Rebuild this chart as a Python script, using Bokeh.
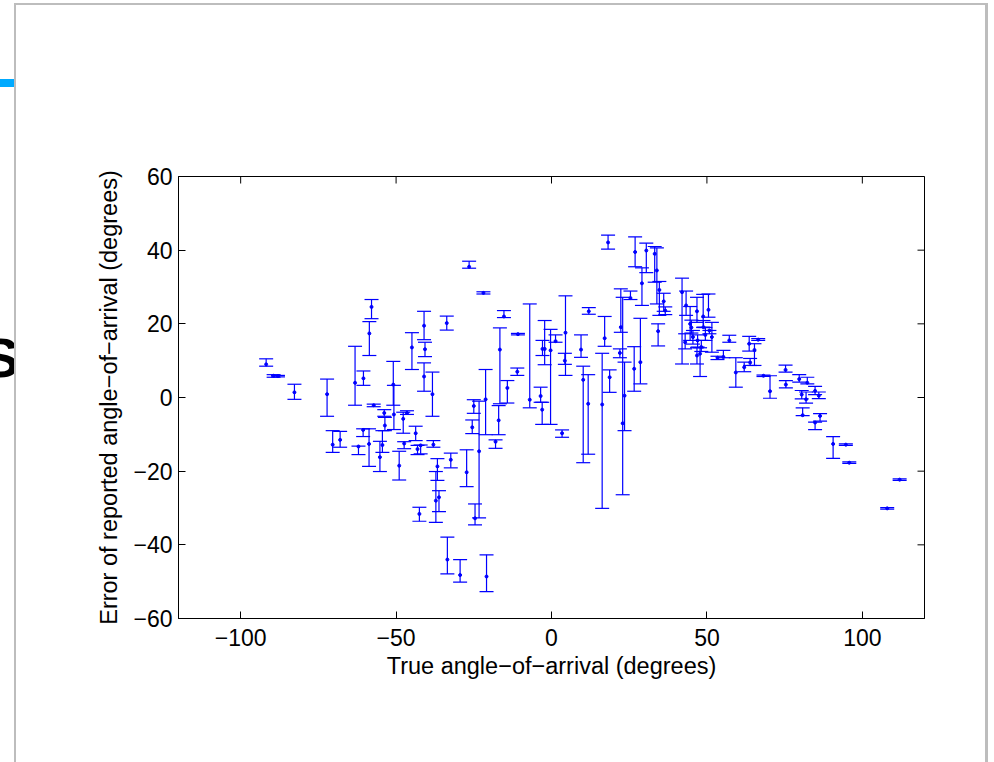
import math
from bokeh.plotting import figure
from bokeh.models import ColumnDataSource, FixedTicker, Range1d, Div
from bokeh.layouts import column
from bokeh.embed import file_html
from bokeh.resources import INLINE

# true angle, reported error, lower and upper bound of error bar
x_vals = [-91.8, -89.4, -88.0, -82.7, -72.2, -70.4, -68.0, -63.2, -62.1, -60.5,
          -60.6, -58.7, -57.9, -58.6, -57.2, -55.2, -54.4, -53.8, -53.6, -50.9,
          -50.7, -49.0, -47.7, -47.4, -46.5, -44.9, -43.7, -43.1, -42.5, -42.1,
          -41.0, -40.7, -41.0, -38.3, -38.0, -36.7, -37.2, -36.2, -33.7, -33.5,
          -32.4, -29.4, -27.3, -26.5, -25.5, -24.6, -23.3, -25.0, -21.9, -21.2,
          -20.9, -18.0, -16.6, -17.0, -15.3, -14.2, -11.0, -10.8, -7.0, -3.5,
          -3.0, -2.2, -2.9, -0.3, 1.3, 3.4, 4.5, 4.3, 9.5, 10.2,
          11.8, 12.0, 16.3, 17.1, 18.2, 18.7, 22.3, 22.9, 22.0, 23.5,
          25.4, 26.6, 26.9, 28.6, 29.1, 30.5, 33.2, 33.9, 34.7, 36.1,
          36.6, 34.3, 42.0, 43.3, 43.0, 44.6, 46.8, 48.8, 50.5, 48.9,
          51.6, 50.8, 47.8, 46.8, 45.5, 47.0, 48.2, 49.5, 45.0, 53.4,
          55.3, 57.2, 59.3, 62.0, 63.6, 63.9, 65.3, 66.5, 68.2, 70.3,
          75.3, 75.4, 79.7, 82.3, 80.5, 81.9, 84.8, 80.8, 86.4, 84.8,
          90.6, 94.7, 95.8, 108.0, 112.0, 86.0]
y_vals = [9.0, 5.9, 5.8, 1.4, 0.9, -12.8, -11.5, 4.0, -13.3, 5.2,
          -8.8, -12.6, 24.6, 17.4, -2.1, -16.2, -12.9, -4.2, -7.6, 3.5,
          -4.6, -18.5, -5.8, -12.5, -4.2, 13.6, -9.7, -14.0, -31.6, -13.0,
          19.5, 13.1, 5.7, 0.9, -12.8, -18.7, -28.0, -27.1, 20.2, -44.0,
          -16.9, -48.2, -20.3, 35.5, -8.1, -32.8, -14.6, -2.3, 28.4, -0.5,
          -48.6, -12.0, 13.0, -6.2, 22.0, 2.6, 7.0, 17.2, -0.6, 0.4,
          -3.3, 13.2, 13.2, 12.8, 15.3, -9.7, 17.6, 10.0, 13.0, 4.8,
          -1.7, 23.4, -1.9, 16.1, 42.1, 5.5, 19.1, -7.0, 12.1, 0.5,
          27.0, 7.8, 39.5, 9.6, 31.0, 39.9, 39.0, 34.5, 29.2, 26.1,
          23.6, 18.0, 28.6, 25.0, 15.0, 20.0, 23.4, 22.0, 23.8, 19.1,
          16.4, 18.2, 11.9, 11.4, 16.4, 15.5, 13.7, 17.0, 19.0, 10.8,
          11.0, 15.5, 6.8, 8.2, 14.6, 9.5, 12.9, 15.7, 5.9, 1.7,
          7.5, 3.5, 5.0, 4.0, 0.8, -0.5, 1.8, -4.8, -5.0, -6.8,
          -12.6, -12.8, -17.7, -30.1, -22.3, 0.5]
y_low = [8.5, 5.5, 5.6, -0.5, -5.1, -14.9, -13.5, -2.1, -15.5, 3.3,
         -10.6, -18.7, 21.4, 11.4, -2.5, -20.1, -14.9, -5.1, -9.0, -2.1,
         -8.7, -22.4, -9.7, -13.9, -4.6, 7.6, -11.7, -15.5, -33.6, -15.3,
         15.7, 11.1, 1.7, -5.1, -13.5, -22.5, -33.9, -31.0, 18.3, -47.9,
         -19.1, -50.1, -24.2, 35.1, -9.8, -34.6, -32.7, -4.3, 28.1, -10.1,
         -52.7, -13.8, -1.7, -10.1, 21.7, -1.5, 6.0, 17.0, -2.8, -1.3,
         -7.3, 8.9, 11.4, -7.3, 15.0, -10.8, 6.0, 9.0, 10.9, -17.7,
         -15.4, 22.6, -30.1, 13.9, 40.3, 1.4, 17.7, -26.4, 10.8, -9.0,
         26.6, 1.7, 35.5, 3.7, 25.0, 33.9, 31.3, 25.4, 22.3, 23.4,
         22.5, 14.0, 9.1, 22.3, 13.2, 15.5, 20.4, 19.0, 21.8, 19.1,
         12.3, 17.3, 5.7, 9.1, 14.5, 13.7, 12.5, 15.5, 17.5, 10.3,
         10.8, 15.0, 2.8, 7.0, 12.6, 8.7, 8.7, 15.5, 5.7, -0.2,
         6.9, 2.6, 4.2, 3.7, -0.4, -1.5, 0.8, -4.9, -6.4, -8.7,
         -16.5, -13.0, -17.9, -30.3, -22.5, -0.3]
y_high = [10.5, 6.2, 6.0, 3.6, 5.0, -9.0, -9.2, 13.9, -13.2, 7.2,
          -8.5, -8.5, 26.6, 20.6, -1.8, -11.9, -9.0, -3.3, -5.4, 9.8,
          3.3, -14.6, -4.0, -12.0, -3.6, 17.6, -7.8, -13.0, -29.8, -12.9,
          23.4, 15.0, 9.4, 6.9, -11.7, -16.6, -20.1, -25.3, 22.1, -37.9,
          -15.1, -44.0, -14.2, 37.0, -6.1, -28.9, -1.0, -0.6, 28.7, 7.6,
          -42.7, -11.5, 18.9, -2.2, 23.6, 4.6, 8.0, 17.4, 25.4, 2.8,
          -1.3, 20.9, 15.5, 18.5, 17.0, -8.8, 27.6, 12.0, 17.0, 8.5,
          6.2, 24.4, 12.0, 22.0, 44.1, 7.5, 29.5, 27.2, 13.2, 9.6,
          28.9, 13.8, 43.6, 21.5, 35.2, 41.9, 41.0, 40.6, 31.5, 28.3,
          24.6, 20.0, 32.4, 28.9, 17.3, 24.7, 27.2, 28.0, 28.1, 20.9,
          20.4, 18.2, 13.5, 13.5, 18.2, 17.0, 15.5, 19.0, 21.0, 11.2,
          12.8, 16.9, 10.8, 9.6, 16.6, 10.6, 14.6, 16.0, 6.1, 5.9,
          8.8, 4.6, 6.2, 5.5, 1.9, 1.5, 3.0, -2.8, -4.4, -6.7,
          -10.6, -12.6, -17.5, -29.9, -22.1, 1.5]

x_ticks = [-100, -50, 0, 50, 100]
y_ticks = [-60, -40, -20, 0, 20, 40, 60]
x_label = "True angle\u2212of\u2212arrival (degrees)"
y_label = "Error of reported angle\u2212of\u2212arrival (degrees)"
x_lim = (-120, 120)
y_lim = (-60, 60)

src = ColumnDataSource(dict(x=x_vals, y=y_vals, lo=y_low, hi=y_high))

FONT = "Liberation Sans"
BLUE = "#0000ff"

p = figure(width=980, height=746, x_range=Range1d(*x_lim), y_range=Range1d(*y_lim),
           output_backend="svg", toolbar_location=None,
           min_border_left=178, min_border_right=56, min_border_top=176, min_border_bottom=128,
           background_fill_color="white", border_fill_color="white")
p.grid.visible = False
p.outline_line_color = "black"
p.outline_line_width = 1

for ax in (p.xaxis[0], p.yaxis[0]):
    ax.major_tick_in = 7
    ax.major_tick_out = 0
    ax.minor_tick_line_color = None
    ax.axis_line_color = "black"
    ax.major_tick_line_color = "black"
    ax.major_label_text_font = FONT
    ax.major_label_text_font_size = "23px"
    ax.major_label_text_color = "black"
    ax.axis_label_text_font = FONT
    ax.axis_label_text_font_size = "23.5px"
    ax.axis_label_text_font_style = "normal"
    ax.axis_label_text_color = "black"

p.xaxis.ticker = FixedTicker(ticks=x_ticks)
p.yaxis.ticker = FixedTicker(ticks=y_ticks)
p.xaxis.major_label_overrides = {t: str(t).replace("-", "\u2212") for t in x_ticks}
p.yaxis.major_label_overrides = {t: str(t).replace("-", "\u2212") for t in y_ticks}
p.xaxis.axis_label = x_label
p.yaxis.axis_label = y_label
p.xaxis.major_label_standoff = 10
p.yaxis.major_label_standoff = 6
p.xaxis.axis_label_standoff = 4
p.yaxis.axis_label_standoff = 8

# inward ticks on the top and right edges of the box (half of each dash is clipped by the frame)
p.scatter(x=x_ticks, y=[y_lim[1]] * len(x_ticks), marker="dash", size=14, angle=math.pi / 2,
          line_color="black", line_width=1)
p.scatter(x=[x_lim[1]] * len(y_ticks), y=y_ticks, marker="dash", size=14,
          line_color="black", line_width=1)

# error bars
p.segment(x0="x", y0="lo", x1="x", y1="hi", source=src, line_color=BLUE, line_width=1.2)
p.scatter(x="x", y="lo", source=src, marker="dash", size=14, line_color=BLUE, line_width=1.2)
p.scatter(x="x", y="hi", source=src, marker="dash", size=14, line_color=BLUE, line_width=1.2)
p.scatter(x="x", y="y", source=src, marker="circle", size=3, fill_color=BLUE, line_color=BLUE)

# slide frame decorations (fixed to the viewport)
deco = Div(width=1, height=1, text=(
    '<div style="position:fixed;left:14px;top:3px;width:2px;height:770px;background:#bdbdbd;"></div>'
    '<div style="position:fixed;left:14px;top:3px;width:974px;height:2px;background:#bdbdbd;"></div>'
    '<div style="position:fixed;left:985px;top:3px;width:3px;height:770px;background:#bdbdbd;"></div>'
    '<div style="position:fixed;left:0px;top:79px;width:14px;height:8px;background:#00aaff;"></div>'
    '<div style="position:fixed;left:0px;top:320px;width:14px;height:80px;overflow:hidden;">'
    '<div style="position:absolute;right:-24px;top:10px;font-family:\'Liberation Sans\';font-weight:bold;'
    'font-size:56px;line-height:56px;color:black;white-space:nowrap;">S(</div></div>'
))

layout = column(p, deco)
open("out.html", "w").write(file_html(layout, INLINE))
